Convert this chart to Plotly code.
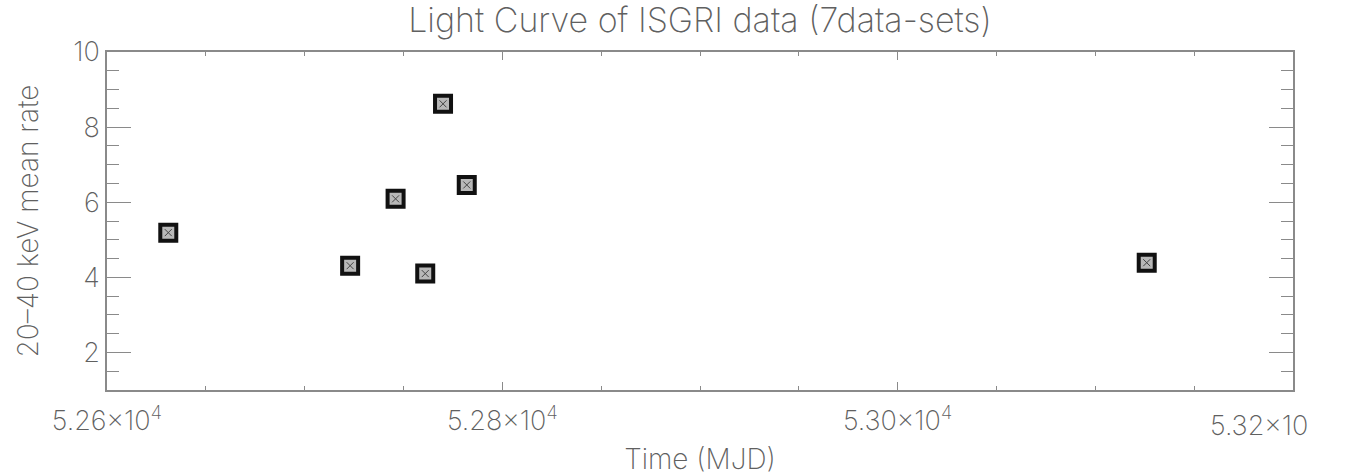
import plotly.graph_objects as go

# Data
time_mjd = [52631, 52723, 52746, 52761, 52770, 52782, 53126]
rate = [5.19, 4.31, 6.09, 4.10, 8.62, 6.46, 4.39]

x_tickvals = [52600, 52800, 53000, 53200]
x_ticktext = ["5.26×10<sup>4</sup>", "5.28×10<sup>4</sup>", "5.30×10<sup>4</sup>", ""]
last_label = "5.32×10"
y_tickvals = [2, 4, 6, 8, 10]

FONT = "Inter, Open Sans, DejaVu Sans, sans-serif"
W = 200
TXT = "#606060"
AX = "#8a8a8a"

fig = go.Figure()
fig.add_trace(go.Scatter(
    x=time_mjd, y=rate, mode="markers",
    marker=dict(symbol="square", size=16, color="#b8b8b8",
                line=dict(color="#111111", width=4)),
    showlegend=False, hoverinfo="skip"))
fig.add_trace(go.Scatter(
    x=time_mjd, y=rate, mode="markers",
    marker=dict(symbol="x-thin", size=7, color="#333333",
                line=dict(color="#444444", width=1)),
    showlegend=False, hoverinfo="skip"))

fig.add_annotation(x=53200, y=0, xref="x", yref="paper", text=last_label,
                   showarrow=False, xanchor="right", yanchor="top",
                   xshift=17, yshift=-17,
                   font=dict(family=FONT, size=27, color=TXT, weight=W))

fig.update_layout(
    width=1353, height=476,
    margin=dict(l=107, r=60, t=52, b=86),
    paper_bgcolor="white", plot_bgcolor="white",
    font=dict(family=FONT, color=TXT, weight=W),
    title=dict(text="Light Curve of ISGRI data (7data-sets)",
               x=0.5, xref="paper", y=0.958, yref="container",
               xanchor="center", yanchor="middle",
               font=dict(family=FONT, size=34, color=TXT, weight=W)),
    xaxis=dict(range=[52600, 53200], tickmode="array",
               tickvals=x_tickvals, ticktext=x_ticktext,
               ticks="inside", ticklen=8, tickwidth=1, tickcolor=AX,
               mirror="allticks", showline=True, linecolor=AX, linewidth=1.5,
               showgrid=False, zeroline=False, ticklabelstandoff=6,
               minor=dict(dtick=50, ticks="inside", ticklen=4, tickcolor=AX, showgrid=False),
               tickfont=dict(family=FONT, size=27, color=TXT, weight=W),
               title=dict(text="Time (MJD)", standoff=22,
                          font=dict(family=FONT, size=28, color=TXT, weight=W)),
               automargin=False),
    yaxis=dict(range=[1, 10], tickmode="array", tickvals=y_tickvals,
               ticks="inside", ticklen=24, tickwidth=1, tickcolor=AX,
               mirror="allticks", showline=True, linecolor=AX, linewidth=1.5,
               showgrid=False, zeroline=False,
               minor=dict(dtick=0.5, ticks="inside", ticklen=12, tickcolor=AX, showgrid=False),
               tickfont=dict(family=FONT, size=27, color=TXT, weight=W),
               title=dict(text="20–40 keV mean rate", standoff=26,
                          font=dict(family=FONT, size=28, color=TXT, weight=W)),
               automargin=False),
)

fig.write_html("out.html")
